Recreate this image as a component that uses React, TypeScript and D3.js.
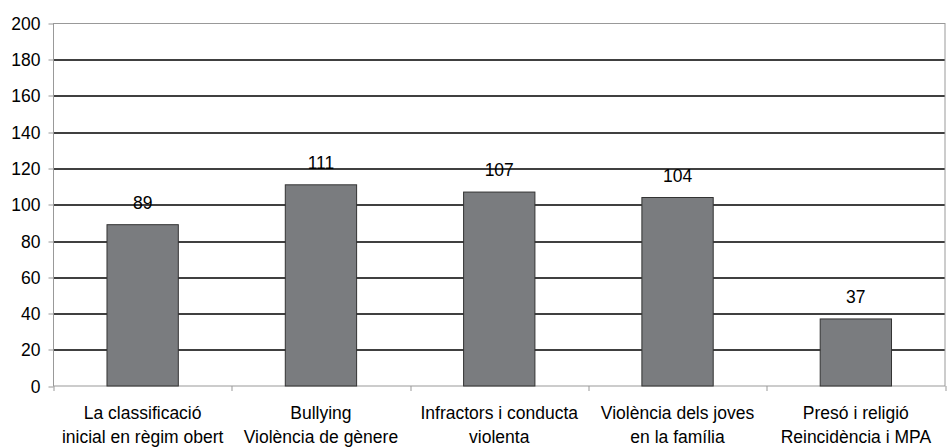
import * as d3 from "d3";

const categories: string[][] = [
  ["La classificació", "inicial en règim obert"],
  ["Bullying", "Violència de gènere"],
  ["Infractors i conducta", "violenta"],
  ["Violència dels joves", "en la família"],
  ["Presó i religió", "Reincidència i MPA"],
];
const values: number[] = [89, 111, 107, 104, 37];
const yTicks: number[] = [0, 20, 40, 60, 80, 100, 120, 140, 160, 180, 200];

const App = () => {
  const width = 947;
  const height = 448;
  const margin = { top: 23.5, right: 2, bottom: 62, left: 53.5 };
  const innerW = width - margin.left - margin.right;
  const innerH = height - margin.top - margin.bottom;

  const x = d3
    .scaleBand()
    .domain(categories.map((_, i) => String(i)))
    .range([0, innerW])
    .padding(0);
  const y = d3.scaleLinear().domain([0, 200]).range([innerH, 0]);

  const barW = x.bandwidth() * 0.4;
  const font = "'Liberation Sans', Arial, sans-serif";
  const fs = 17.5;

  return (
    <svg
      width={width}
      height={height}
      style={{ position: "absolute", left: 0, top: 0, background: "#fff" }}
    >
      <g transform={`translate(${margin.left},${margin.top})`}>
        {/* grid lines */}
        {yTicks.slice(1, -1).map((t) => (
          <line
            key={`g-${t}`}
            x1={0}
            x2={innerW}
            y1={Math.round(y(t)) + 0.5}
            y2={Math.round(y(t)) + 0.5}
            stroke="#000"
            strokeWidth={1.5}
          />
        ))}
        {/* plot border */}
        <rect
          x={0}
          y={0}
          width={innerW}
          height={innerH}
          fill="none"
          stroke="#999"
          strokeWidth={1}
        />

        {/* bars */}
        {values.map((v, i) => {
          const cx = (x(String(i)) || 0) + x.bandwidth() / 2;
          return (
            <g key={i}>
              <rect
                x={cx - barW / 2}
                y={y(v)}
                width={barW}
                height={innerH - y(v)}
                fill="#7a7c7f"
                stroke="#333"
                strokeWidth={1}
              />
              <text
                x={cx}
                y={y(v) - 16}
                textAnchor="middle"
                fontFamily={font}
                fontSize={fs}
                fill="#000"
              >
                {v}
              </text>
            </g>
          );
        })}

        {/* y axis */}
        {yTicks.map((t) => (
          <g key={`y-${t}`} transform={`translate(0,${Math.round(y(t)) + 0.5})`}>
            <line x1={-5} x2={0} stroke="#999" />
            <text
              x={-13}
              dy="0.35em"
              textAnchor="end"
              fontFamily={font}
              fontSize={fs}
              fill="#000"
            >
              {t}
            </text>
          </g>
        ))}

        {/* x axis ticks */}
        {d3.range(categories.length + 1).map((i) => {
          const xx = i < categories.length ? x(String(i)) || 0 : innerW;
          return (
            <line
              key={`xt-${i}`}
              x1={Math.round(xx) + 0.5}
              x2={Math.round(xx) + 0.5}
              y1={innerH}
              y2={innerH + 5}
              stroke="#999"
            />
          );
        })}

        {/* x labels */}
        {categories.map((lines, i) => {
          const cx = (x(String(i)) || 0) + x.bandwidth() / 2;
          return (
            <text
              key={`xl-${i}`}
              textAnchor="middle"
              fontFamily={font}
              fontSize={fs}
              fill="#000"
            >
              {lines.map((l, j) => (
                <tspan key={j} x={cx} y={innerH + 33 + j * 24}>
                  {l}
                </tspan>
              ))}
            </text>
          );
        })}
      </g>
    </svg>
  );
};

export default App;
